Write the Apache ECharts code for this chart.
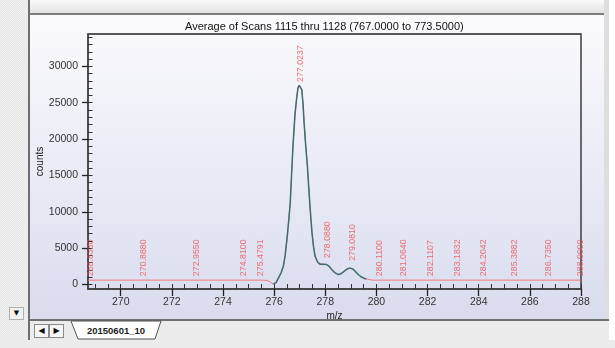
<!DOCTYPE html>
<html>
<head>
<meta charset="utf-8">
<script src="https://cdn.jsdelivr.net/npm/echarts@6/dist/echarts.min.js"></script>
<style>
  body { margin: 0; width: 615px; height: 348px; position: relative; overflow: hidden; background: #ffffff; font-family: "Liberation Sans", Arial, sans-serif; }
  .abs { position: absolute; }
  #leftStrip { left: 0; top: 0; width: 28px; height: 340px; background: repeating-conic-gradient(#e4e4e4 0 25%, #f4f4f4 0 50%) 0 0 / 2px 2px; }
  #topBar { left: 30px; top: 0; width: 574px; height: 13px; background: linear-gradient(#fbfbfb, #e2e2e2); }
  #topLine { left: 28px; top: 13px; width: 578px; height: 2px; background: #7d7d7d; }
  #leftLine { left: 28px; top: 0; width: 2px; height: 340px; background: #6e6e6e; }
  #panel { left: 30px; top: 15px; width: 574px; height: 304px; background: linear-gradient(#fbfbfd, #d9dcee); }
  #rightStrip { left: 604px; top: 0; width: 5px; height: 322px; background: #dedede; }
  #bottomLine { left: 28px; top: 319px; width: 581px; height: 2px; background: #6f6f6f; }
  #tabBar { left: 30px; top: 321px; width: 579px; height: 19px; background: #ececec; }
  #below { left: 0; top: 340px; width: 615px; height: 8px; background: #ececec; }
  .btn { top: 324px; width: 13px; height: 12px; border: 1px solid #8a8a8a; background: #f6f6f6; font-size: 8px; line-height: 12px; text-align: center; color: #111; font-family: "DejaVu Sans", sans-serif; }
  #drop { left: 9px; top: 307px; width: 13px; height: 11px; border: 1px solid #b0b0b0; background: #f2f2f2; font-size: 7px; line-height: 11px; text-align: center; color: #111; font-family: "DejaVu Sans", sans-serif; }
  #chart { left: 0; top: 0; width: 615px; height: 348px; }
</style>
</head>
<body>
<div class="abs" id="leftStrip"></div>
<div class="abs" id="topBar"></div>
<div class="abs" id="panel"></div>
<div class="abs" id="topLine"></div>
<div class="abs" id="leftLine"></div>
<div class="abs" id="rightStrip"></div>
<div class="abs" id="bottomLine"></div>
<div class="abs" id="tabBar"></div>
<div class="abs" id="below"></div>
<div class="abs" id="drop">▼</div>
<div class="abs btn" style="left:34px">◀</div>
<div class="abs btn" style="left:49px">▶</div>
<svg class="abs" style="left:68px;top:320px" width="100" height="21">
  <polygon points="3,1 10,19 87,19 93,1" fill="#ffffff" stroke="#555" stroke-width="1"/>
  <text x="48" y="14" text-anchor="middle" font-size="9.5" font-weight="bold" fill="#222" font-family="Liberation Sans, Arial, sans-serif">20150601_10</text>
</svg>
<div class="abs" id="chart"></div>
<script>
// spectrum profile (m/z, counts)
const mz = [268.72, 269.5, 270.5, 271.5, 272.5, 273.5, 274.5, 275.5, 275.72, 275.85, 275.97, 276.08, 276.17, 276.27,
  276.36, 276.43, 276.50, 276.57, 276.63, 276.68, 276.73, 276.78, 276.82, 276.88, 276.93, 276.98, 277.02, 277.08,
  277.13, 277.17, 277.23, 277.30, 277.35, 277.40, 277.48, 277.54, 277.60, 277.70, 277.79, 277.90, 278.05, 278.15,
  278.25, 278.38, 278.51, 278.60, 278.70, 278.80, 278.90, 278.98, 279.09, 279.20, 279.29, 279.38, 279.48, 279.60,
  279.74, 279.90, 280.5, 282, 284, 286, 288];
const counts = [600, 600, 600, 600, 600, 600, 600, 600, 560, 350, 60, 300, 900, 1600,
  2500, 4000, 6200, 8800, 11300, 15000, 18600, 21500, 23600, 25600, 27000, 27400, 27300, 26800,
  24800, 22300, 19300, 16300, 13500, 10800, 7100, 5200, 3900, 3100, 2800, 2800, 2750, 2500,
  2060, 1600, 1380, 1450, 1700, 2000, 2200, 2250, 2100, 1700, 1380, 1100, 900, 750,
  650, 600, 600, 600, 600, 600, 600];

// peak annotations
const labelMz = [268.833, 270.888, 272.955, 274.81, 275.4791, 277.0237, 278.088, 279.081, 280.11,
  281.064, 282.1107, 283.1832, 284.2042, 285.3882, 286.735, 288.0];
const labelCounts = [600, 600, 600, 600, 600, 27300, 3100, 2700, 600, 600, 600, 600, 600, 600, 600, 600];

// axis ticks
const xMajor = [270, 272, 274, 276, 278, 280, 282, 284, 286, 288];
const xMinor = [];
for (let v = 269; v <= 288; v += 0.5) xMinor.push(v);
const yMajor = [0, 5000, 10000, 15000, 20000, 25000, 30000];
const yMinor = [];
for (let v = 0; v <= 34000; v += 1000) yMinor.push(v);

const full = mz.map((x, i) => [x, counts[i]]);
const peak = full.filter(d => d[0] >= 275.95 && d[0] <= 279.7);
const marks = labelMz.map((x, i) => [x, labelCounts[i]]);

const font = '"Liberation Sans", Arial, sans-serif';
const axisDark = '#454545';

const chart = echarts.init(document.getElementById('chart'), null, { renderer: 'canvas' });
chart.setOption({
  animation: false,
  backgroundColor: 'transparent',
  title: {
    text: 'Average of Scans 1115 thru 1128 (767.0000 to 773.5000)',
    left: 180,
    top: 16,
    textStyle: { fontSize: 11, fontWeight: 'normal', color: '#111', fontFamily: font }
  },
  grid: {
    left: 88, right: 34, top: 34, bottom: 59,
    show: true, borderColor: '#222', borderWidth: 1.3, backgroundColor: 'transparent'
  },
  xAxis: [
    {
      type: 'value', min: 268.72, max: 288,
      name: 'm/z', nameLocation: 'middle', nameGap: 22, nameMoveOverlap: false,
      nameTextStyle: { fontSize: 10, color: '#222', fontFamily: font },
      axisLine: { onZero: false, lineStyle: { color: axisDark, width: 1.5 } },
      axisTick: { customValues: xMajor, length: 7, lineStyle: { color: '#222', width: 1.3 } },
      axisLabel: { customValues: xMajor, margin: 8, fontSize: 10.5, color: '#333', fontFamily: font },
      splitLine: { show: false }
    },
    {
      type: 'value', min: 268.72, max: 288, position: 'bottom',
      axisLine: { show: false, onZero: false },
      axisTick: { customValues: xMinor, inside: true, length: 5, lineStyle: { color: '#333', width: 1 } },
      axisLabel: { show: false },
      splitLine: { show: false }
    }
  ],
  yAxis: [
    {
      type: 'value', min: -620, max: 34450,
      name: 'counts', nameLocation: 'middle', nameGap: 43, nameRotate: 90, nameMoveOverlap: false,
      nameTextStyle: { fontSize: 10, color: '#222', fontFamily: font },
      axisLine: { show: true, onZero: false, lineStyle: { color: axisDark, width: 1.5 } },
      axisTick: { customValues: yMajor, length: 6, lineStyle: { color: '#222', width: 1.3 } },
      axisLabel: { customValues: yMajor, margin: 10, fontSize: 10.5, color: '#333', fontFamily: font,
        formatter: v => String(v) },
      splitLine: { show: false }
    },
    {
      type: 'value', min: -620, max: 34450, position: 'left',
      axisLine: { show: false, onZero: false },
      axisTick: { customValues: yMinor, inside: true, length: 4.5, lineStyle: { color: '#333', width: 1 } },
      axisLabel: { show: false },
      splitLine: { show: false }
    }
  ],
  series: [
    {
      type: 'line', data: full, showSymbol: false, silent: true,
      lineStyle: { color: '#ef7878', width: 1 }
    },
    {
      type: 'line', data: peak, showSymbol: false, silent: true,
      lineStyle: { color: '#3f6e70', width: 1.5 }
    },
    {
      type: 'scatter', data: marks, symbolSize: 0, silent: true,
      label: {
        show: true, position: 'top', distance: 4, rotate: 90,
        align: 'left', verticalAlign: 'middle',
        formatter: p => p.value[0].toFixed(4),
        fontSize: 8.8, color: '#ee4f4f', fontFamily: font
      }
    }
  ]
});
</script>
</body>
</html>
